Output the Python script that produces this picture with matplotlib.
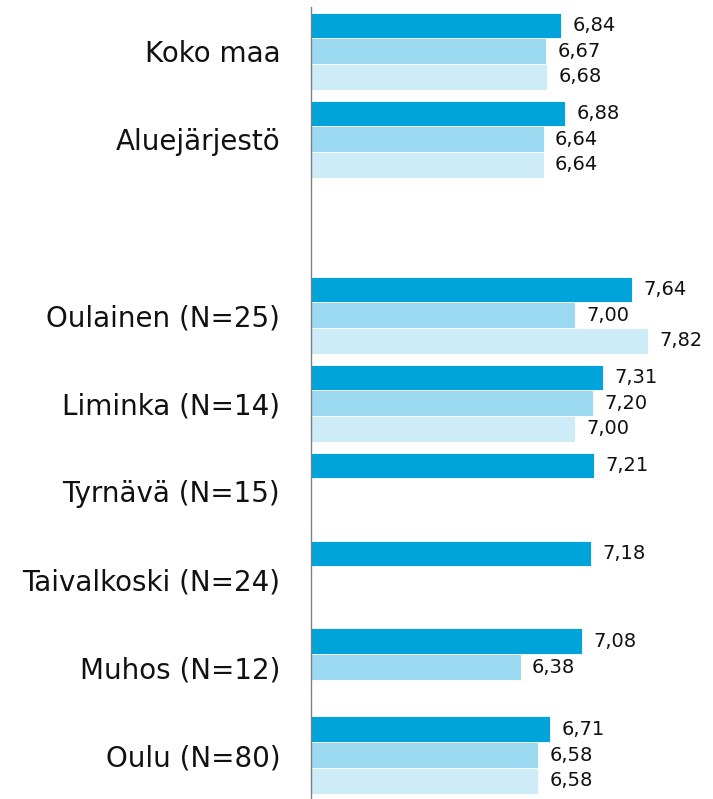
import numpy as np
import matplotlib
matplotlib.use('Agg')
from matplotlib import pyplot as plt

# categories top to bottom, '' is the empty slot between the groups
categories = ['Koko maa', 'Aluejärjestö', '', 'Oulainen (N=25)', 'Liminka (N=14)',
              'Tyrnävä (N=15)', 'Taivalkoski (N=24)', 'Muhos (N=12)', 'Oulu (N=80)']
series1 = [6.84, 6.88, None, 7.64, 7.31, 7.21, 7.18, 7.08, 6.71]
series2 = [6.67, 6.64, None, 7.00, 7.20, None, None, 6.38, 6.58]
series3 = [6.68, 6.64, None, 7.82, 7.00, None, None, None, 6.58]

colors = ['#00a4da', '#9bd9f1', '#ceecf7']

fig = plt.figure(figsize=(7.13, 7.99), dpi=100)
ax = fig.add_axes([0.4358, 0.0, 1 - 0.4358, 0.991])

xmin = 4.0
bh = 0.292
pos = np.arange(len(categories))
for k, vals in enumerate([series1, series2, series3]):
    for i, v in enumerate(vals):
        if v is None:
            continue
        y = pos[i] + (k - 1) * bh
        ax.barh(y, v - xmin, left=xmin, height=bh, color=colors[k],
                edgecolor='white', linewidth=0.6)
        ax.text(v + 0.13, y, ('%.2f' % v).replace('.', ','), va='center', ha='left',
                fontsize=14, color='#111111')

ax.set_xlim(xmin, xmin + 402.3 / 88.2)
ax.set_ylim(len(categories) - 0.5, -0.5)
ax.set_yticks(pos)
ax.set_yticklabels(categories, fontsize=20, color='#111111')
ax.tick_params(axis='y', length=0, pad=22)
ax.set_xticks([])
for s in ['top', 'right', 'bottom']:
    ax.spines[s].set_visible(False)
ax.spines['left'].set_color('#808080')
ax.spines['left'].set_linewidth(1)

plt.savefig('out.png', dpi=100)
